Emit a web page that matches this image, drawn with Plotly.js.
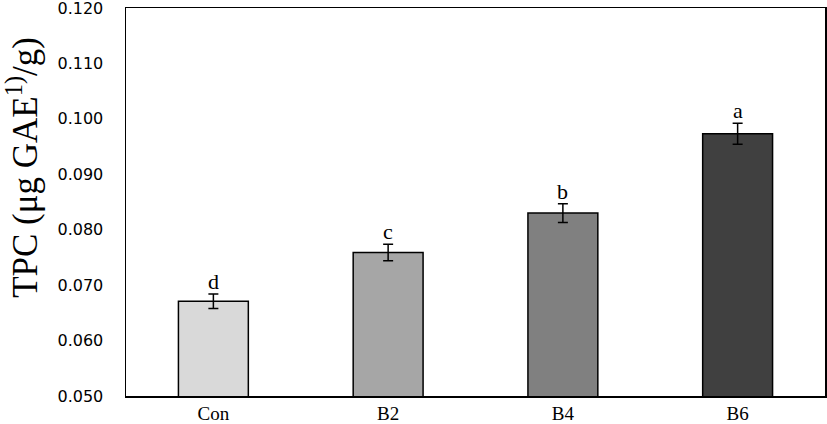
<!DOCTYPE html>
<html><head><meta charset="utf-8">
<script src="https://cdn.plot.ly/plotly-3.0.1.min.js"></script>
<style>body{margin:0;background:#fff}#c{width:827px;height:424px}</style>
</head><body><div id="c"></div>
<script>
const categories = ["Con", "B2", "B4", "B6"];
const tpcValues = [0.0671, 0.0759, 0.0830, 0.0973];
const tpcErrors = [0.0013, 0.0015, 0.0017, 0.0019];
const letters = ["d", "c", "b", "a"];
const barColors = ["#d9d9d9", "#a6a6a6", "#808080", "#404040"];
const yTickVals = [0.05, 0.06, 0.07, 0.08, 0.09, 0.10, 0.11, 0.12];
const yTickText = ["0.050", "0.060", "0.070", "0.080", "0.090", "0.100", "0.110", "0.120"];
const yTitle = "TPC (μg GAE<sup>1)</sup>/g)";

const trace = {
  type: "bar", x: categories, y: tpcValues,
  marker: {color: barColors, line: {color: "#000", width: 1.5}},
  error_y: {type: "data", array: tpcErrors, visible: true, color: "#000", thickness: 1.5, width: 5},
  hoverinfo: "none"
};
const annotations = categories.map((c, i) => ({
  x: c, y: tpcValues[i] + tpcErrors[i], text: letters[i], showarrow: false,
  yanchor: "bottom", yshift: -2,
  font: {family: "Liberation Serif, Times New Roman, serif", size: 22, color: "#000"}
}));
annotations.push({
  xref: "paper", yref: "paper", x: 0, y: 0.588, xshift: -103, xanchor: "center", yanchor: "middle",
  text: yTitle, textangle: -90, showarrow: false,
  font: {family: "Liberation Serif, Times New Roman, serif", size: 35, color: "#000"}
});
const layout = {
  width: 827, height: 424,
  margin: {l: 126, r: 2, t: 8, b: 28},
  paper_bgcolor: "#fff", plot_bgcolor: "#fff",
  bargap: 0.6, showlegend: false,
  xaxis: {
    showline: true, linecolor: "#000", linewidth: 1.5, mirror: true, ticks: "",
    tickfont: {family: "Liberation Serif, Times New Roman, serif", size: 19, color: "#000"},
    showgrid: false, zeroline: false
  },
  yaxis: {
    range: [0.05, 0.12], tickvals: yTickVals, ticktext: yTickText,
    showline: true, linecolor: "#000", linewidth: 1.5, mirror: true, ticks: "",
    ticklabelstandoff: 18, ticklabeloverflow: "allow",
    tickfont: {family: "DejaVu Sans, sans-serif", size: 16, color: "#000"},
    showgrid: false, zeroline: false
  },
  annotations: annotations
};
Plotly.newPlot("c", [trace], layout, {displayModeBar: false, staticPlot: true});
</script></body></html>
